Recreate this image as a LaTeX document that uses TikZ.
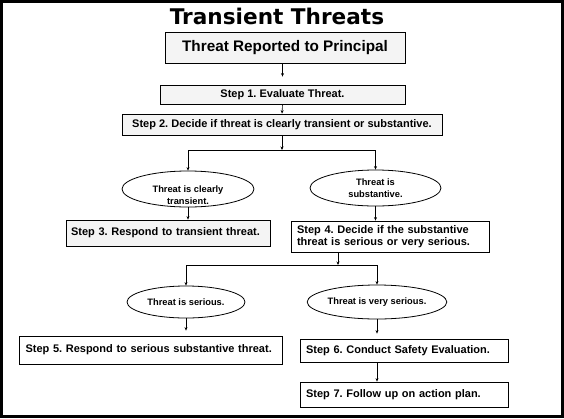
\documentclass[tikz,border=0pt]{standalone}
\usepackage{fontspec}
\setmainfont{Liberation Sans}
\newfontfamily\titlefont{DejaVu Sans}
\usetikzlibrary{arrows.meta,shapes.geometric}
\frenchspacing

\begin{document}
\begin{tikzpicture}[x=1pt,y=-1pt,
  stepbox/.style={draw,line width=0.8pt,inner sep=0pt,align=left,
    font=\bfseries\fontsize{11}{12.5}\selectfont},
  greybox/.style={stepbox,fill=gray!9},
  choice/.style={ellipse,draw,line width=0.8pt,inner sep=0pt,align=center,
    font=\bfseries\fontsize{9.3}{12.5}\selectfont},
  arr/.style={line width=0.6pt,-{Stealth[length=3.5pt,width=3pt]}}]
\useasboundingbox (0,0) rectangle (564,418);
\draw[line width=3pt] (1.5,1.5) rectangle (562.5,416.5);

\node[font=\titlefont\bfseries\fontsize{21.6}{24}\selectfont] (title) at (277,16) {Transient Threats};
\node[greybox,align=center,minimum width=240,minimum height=31,
  font=\bfseries\fontsize{15.3}{17}\selectfont] (report) at (285,47.5) {Threat Reported to Principal};
\node[greybox,align=center,minimum width=245,minimum height=19] (s1) at (282.5,94.5) {Step 1. Evaluate Threat.};
\node[greybox,align=center,minimum width=320,minimum height=21] (s2) at (282,124.5) {Step 2. Decide if threat is clearly transient or substantive.};
\coordinate (j1) at (283,150);

\node[choice,minimum width=132,minimum height=36] (e1) at (188,189)
  {\raisebox{-7pt}[\height][\depth]{\begin{tabular}{@{}c@{}}Threat is clearly\\transient.\end{tabular}}};
\node[choice,minimum width=131,minimum height=36] (e2) at (375.5,188) {Threat is\\substantive.};

\node[greybox,text width=194,minimum width=204,minimum height=26] (s3) at (168,233) {Step 3. Respond to transient threat.};
\node[stepbox,text width=186,minimum width=198,minimum height=31] (s4) at (390,236.5) {Step 4. Decide if the substantive\\threat is serious or very serious.};
\coordinate (j2) at (338,265);

\node[choice,minimum width=118,minimum height=32] (e3) at (186,302) {Threat is serious.};
\node[choice,minimum width=116,minimum height=34] (e4) at (377,302) {Threat is very serious.};

\node[stepbox,text width=250,minimum width=263,minimum height=28] (s5) at (150.5,350) {Step 5. Respond to serious substantive threat.};
\node[stepbox,text width=196,minimum width=208,minimum height=23] (s6) at (404,350.5) {Step 6. Conduct Safety Evaluation.};
\node[stepbox,text width=196,minimum width=208,minimum height=25] (s7) at (404,394.5) {Step 7. Follow up on action plan.};

\draw[arr] (s1.north |- report.south) -- ([yshift=8]s1.north);
\draw[arr] (s1.south) -- (s2.north);
\draw[arr] (s2.south) -- (s2.south |- j1);
\draw[line width=0.8pt] (e1.north |- j1) -- (e2.north |- j1);
\draw[arr] (e1.north |- j1) -- (e1.north);
\draw[arr] (e2.north |- j1) -- (e2.north);
\draw[arr] (e1.south) -- (e1.south |- s3.north);
\draw[arr] (e2.south) -- (e2.south |- s4.north);
\draw[arr] (s4.south -| j2) -- (j2);
\draw[line width=0.8pt] (e3.north |- j2) -- (e4.north |- j2);
\draw[arr] (e3.north |- j2) -- (e3.north);
\draw[arr] (e4.north |- j2) -- (e4.north);
\draw[arr,shorten >=5pt] (e3.south) -- (e3.south |- s5.north);
\draw[arr,shorten >=5pt] (e4.south) -- (e4.south |- s6.north);
\draw[arr] (e4.south |- s6.south) -- (e4.south |- s7.north);
\end{tikzpicture}
\end{document}
